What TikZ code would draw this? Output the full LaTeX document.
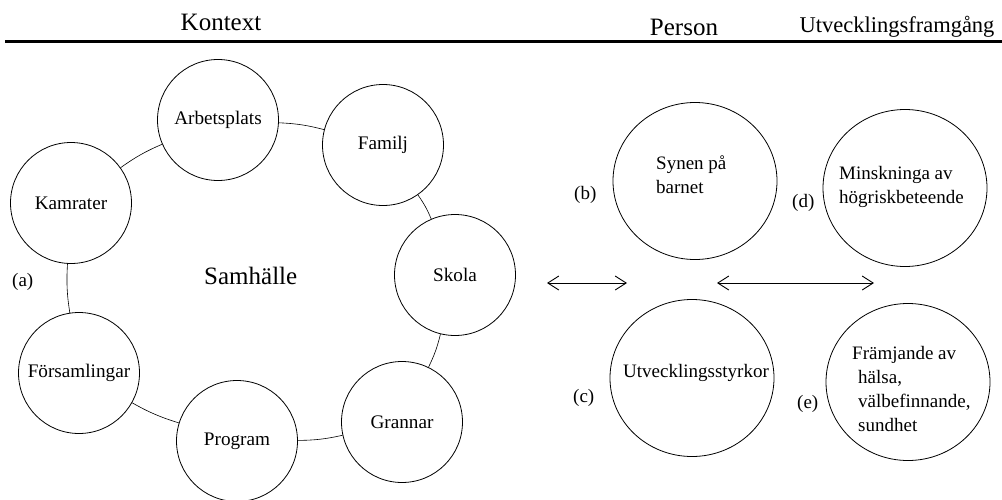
\documentclass[tikz,border=0pt]{standalone}
\usepackage{fontspec}
\setmainfont{Liberation Serif}
\usetikzlibrary{arrows.meta,shapes.geometric}
\begin{document}
\begin{tikzpicture}[x=1pt,y=-1pt,
  ring/.style={draw,line width=0.8pt,circle,minimum size=121pt,inner sep=0pt,font=\fontsize{19.2}{22}\selectfont},
  oval/.style={draw,line width=0.8pt,ellipse,minimum width=164pt,minimum height=157pt,inner sep=0pt},
  lbl/.style={anchor=base west,inner sep=0pt,font=\fontsize{19}{24}\selectfont,align=left},
  head/.style={anchor=base,inner sep=0pt,font=\fontsize{25}{30}\selectfont},
  link/.style={line width=0.6pt,bend left=6},
  dbl/.style={line width=0.9pt,{Straight Barb[length=11pt,width=14pt]}-{Straight Barb[length=11pt,width=14pt]}}
]
\useasboundingbox (0,0) rectangle (1002,499);
% headers
\node[head] (hk) at (221,30) {Kontext};
\node[head] (hp) at (684,35) {Person};
\node[head,font=\fontsize{22.5}{28}\selectfont] (hu) at (897,32) {Utvecklingsframgång};
\coordinate (l1) at (5,41.5);
\coordinate (l2) at (1002,41.5);
\draw[line width=3pt] (l1) -- (l2);
% ring
\node[ring] (arb) at (218,120) {Arbetsplats};
\node[ring] (fam) at (383,145) {Familj};
\node[ring] (kam) at (71,203) {Kamrater};
\node[ring] (sko) at (455,275) {Skola};
\node[ring] (for) at (79,373) {Församlingar};
\node[ring] (pro) at (237,441) {Program};
\node[ring] (gra) at (402,422) {Grannar};
\draw[link] (kam) to (arb);
\draw[link] (arb) to (fam);
\draw[link] (fam) to (sko);
\draw[link] (sko) to (gra);
\draw[link] (gra) to (pro);
\draw[link] (pro) to (for);
\draw[link] (for) to (kam);
\node[anchor=base west,inner sep=0pt,font=\fontsize{25}{30}\selectfont] (sam) at (204,284) {Samhälle};
\node[lbl] (la) at (12,286) {(a)};
% right side
\node[oval] (syn) at (695,181) {};
\node[oval] (min) at (905,188) {};
\node[oval] (utv) at (692,378) {};
\node[oval] (fra) at (908,382) {};
\node[lbl] (tsyn) at (656,193) {Synen på\\barnet};
\node[lbl] (tmin) at (839,203) {Minskninga av\\högriskbeteende};
\node[lbl] (tutv) at (623,377) {Utvecklingsstyrkor};
\node[lbl] (tfra) at (852,431) {Främjande av\\\hspace*{6pt}hälsa,\\\hspace*{6pt}välbefinnande,\\\hspace*{6pt}sundhet};
\node[lbl] (lb) at (574,199) {(b)};
\node[lbl] (ld) at (792,207) {(d)};
\node[lbl] (lc) at (573,402) {(c)};
\node[lbl] (le) at (797,408) {(e)};
% arrows
\coordinate (a1) at (547,283);
\coordinate (a2) at (627,283);
\coordinate (b1) at (717,283);
\coordinate (b2) at (874,283);
\draw[dbl] (a1) -- (a2);
\draw[dbl] (b1) -- (b2);
\end{tikzpicture}
\end{document}
